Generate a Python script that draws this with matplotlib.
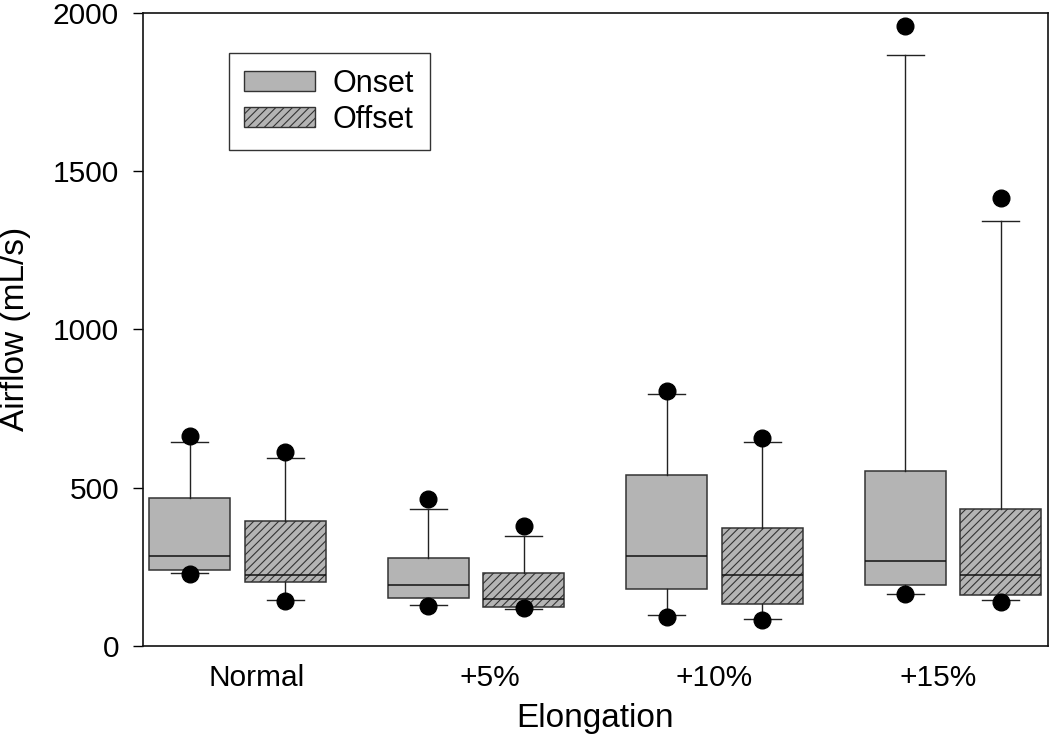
import numpy as np
import matplotlib
matplotlib.use('Agg')
import matplotlib.pyplot as plt
from matplotlib.patches import Patch

plt.rcParams['font.family'] = ['Liberation Sans', 'DejaVu Sans']
plt.rcParams['hatch.linewidth'] = 0.8
plt.rcParams['hatch.color'] = '#333333'

groups = ['Normal', '+5%', '+10%', '+15%']
series = ['Onset', 'Offset']

# box stats, mL/s
onset_q1 = [239, 151, 180, 193]
onset_med = [284, 193, 283, 268]
onset_q3 = [466, 279, 539, 554]
onset_lo = [230, 129, 98, 164]
onset_hi = [643, 432, 797, 1865]
onset_out_lo = [227, 126, 91, 164]
onset_out_hi = [663, 463, 806, 1959]

offset_q1 = [201, 122, 133, 160]
offset_med = [224, 149, 225, 223]
offset_q3 = [395, 230, 374, 433]
offset_lo = [145, 117, 86, 144]
offset_hi = [593, 346, 644, 1343]
offset_out_lo = [142, 120, 82, 140]
offset_out_hi = [613, 378, 658, 1416]


def make_stats(q1, med, q3, lo, hi, out_lo, out_hi):
    stats = []
    for i in range(len(q1)):
        stats.append({'q1': q1[i], 'med': med[i], 'q3': q3[i],
                      'whislo': lo[i], 'whishi': hi[i],
                      'fliers': [out_lo[i], out_hi[i]]})
    return stats


fig = plt.figure(figsize=(10.5, 7.38), dpi=100)
ax = fig.add_axes([0.1359, 0.1247, 0.8621, 0.8583])

pos = np.arange(1, len(groups) + 1)
box_fill = '#b4b4b4'
edge = '#333333'

common = dict(widths=0.34, patch_artist=True, showfliers=True,
              medianprops=dict(color='#111111', linewidth=1.1),
              whiskerprops=dict(color='#222222', linewidth=1.0),
              capprops=dict(color='#222222', linewidth=1.0),
              capwidths=0.155,
              flierprops=dict(marker='o', markerfacecolor='black',
                              markeredgecolor='black', markersize=12))

b1 = ax.bxp(make_stats(onset_q1, onset_med, onset_q3, onset_lo, onset_hi,
                       onset_out_lo, onset_out_hi),
            positions=pos - 0.2,
            boxprops=dict(facecolor=box_fill, edgecolor=edge, linewidth=1.1),
            **common)
b2 = ax.bxp(make_stats(offset_q1, offset_med, offset_q3, offset_lo, offset_hi,
                       offset_out_lo, offset_out_hi),
            positions=pos + 0.2,
            boxprops=dict(facecolor=box_fill, edgecolor=edge, linewidth=1.1,
                          hatch='////'),
            **common)

ax.set_xlim(0.603, 4.398)
ax.set_ylim(0, 2000)
ax.set_yticks([0, 500, 1000, 1500, 2000])
# category labels sit a bit off the box pairs, as in the original
ax.set_xticks([1.08, 2.06, 3.0, 3.94])
ax.set_xticklabels(groups)
ax.tick_params(axis='x', length=0, pad=13, labelsize=21.5)
ax.tick_params(axis='y', direction='out', length=7, width=1.0, pad=10, labelsize=21.5)

for s in ax.spines.values():
    s.set_linewidth(1.2)
    s.set_color('#111111')

ax.set_xlabel('Elongation', fontsize=24, labelpad=8)
ax.set_ylabel('Airflow (mL/s)', fontsize=24, labelpad=0)
ax.yaxis.set_label_coords(-0.123, 0.5)

handles = [Patch(facecolor=box_fill, edgecolor=edge, linewidth=1.0),
           Patch(facecolor=box_fill, edgecolor=edge, linewidth=1.0, hatch='////')]
leg = ax.legend(handles, series, loc='upper left', bbox_to_anchor=(0.0953, 0.9356),
                borderaxespad=0, fontsize=22, handlelength=2.3, handleheight=0.6,
                handletextpad=0.6, labelspacing=0.2, borderpad=0.5,
                fancybox=False, framealpha=1)
leg.get_frame().set_edgecolor('#333333')
leg.get_frame().set_linewidth(1.0)

plt.savefig('out.png', dpi=100)
